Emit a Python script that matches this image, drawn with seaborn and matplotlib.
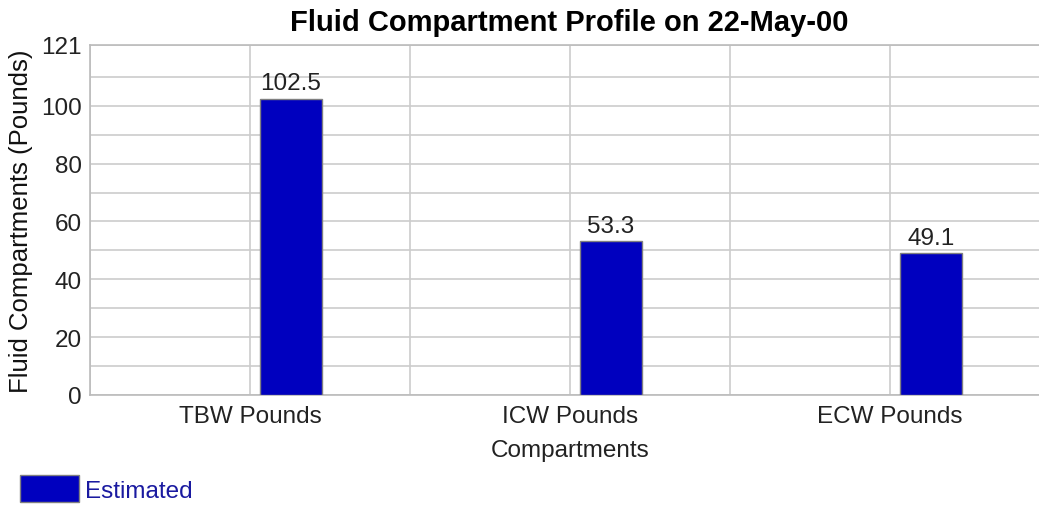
import matplotlib
matplotlib.use('Agg')
import matplotlib.pyplot as plt
import seaborn as sns
import pandas as pd

categories = ['TBW Pounds', 'ICW Pounds', 'ECW Pounds']
estimated = [102.5, 53.3, 49.1]
value_labels = ['102.5', '53.3', '49.1']
y_ticks = [0, 20, 40, 60, 80, 100, 121]
y_minor = [10, 30, 50, 70, 90, 110]

df = pd.DataFrame({'compartment': categories, 'pounds': estimated})

sns.set_theme(style='white')
plt.rcParams['font.family'] = ['Liberation Sans', 'DejaVu Sans']

fig = plt.figure(figsize=(10.39, 5.06), dpi=100)
ax = fig.add_axes([0.0866, 0.2174, 0.924, 0.6917])

bar_color = '#0000BF'
sns.barplot(data=df, x='compartment', y='pounds', color=bar_color,
            saturation=1, width=0.194, edgecolor='#808080', linewidth=1.0,
            ax=ax, zorder=3, label='Estimated')
if ax.get_legend() is not None:
    ax.get_legend().remove()

# bars sit to the right of the category centre, like the original chart
for p in ax.patches:
    p.set_x(p.get_x() + 0.128)

ax.bar_label(ax.containers[0], labels=value_labels, padding=3,
             fontsize=17.5, color='#222222')

ax.set_xlim(-0.5, 2.5)
ax.set_ylim(0, 121)
ax.set_yticks(y_ticks)
ax.set_yticks(y_minor, minor=True)
ax.set_xticks([-0.5, 0.5, 1.5, 2.5], minor=True)
ax.grid(True, which='both', color='#cccccc', linewidth=1.2, zorder=0)
ax.set_axisbelow(True)
ax.tick_params(axis='both', which='both', length=0, labelsize=17.5,
               labelcolor='#222222')
ax.tick_params(axis='x', pad=7)
ax.tick_params(axis='y', pad=6)
for s in ax.spines.values():
    s.set_color('#bbbbbb')
    s.set_linewidth(1.2)

ax.set_xlabel('Compartments', fontsize=17.5, color='#222222', labelpad=9)
ax.set_ylabel('Fluid Compartments (Pounds)', fontsize=18.5, color='#111111',
              labelpad=6)
fig.text(0.548, 0.955, 'Fluid Compartment Profile on 22-May-00',
         ha='center', va='center', fontsize=21, fontweight='bold',
         color='black')

handles, labels = ax.get_legend_handles_labels()
fig.legend(handles[:1], ['Estimated'], loc='lower left',
           bbox_to_anchor=(-0.002, -0.037), frameon=False, fontsize=17.5,
           handlelength=2.45, handleheight=1.3, handletextpad=0.25,
           labelcolor='#1a1aa0')

plt.savefig('out.png', dpi=100)
